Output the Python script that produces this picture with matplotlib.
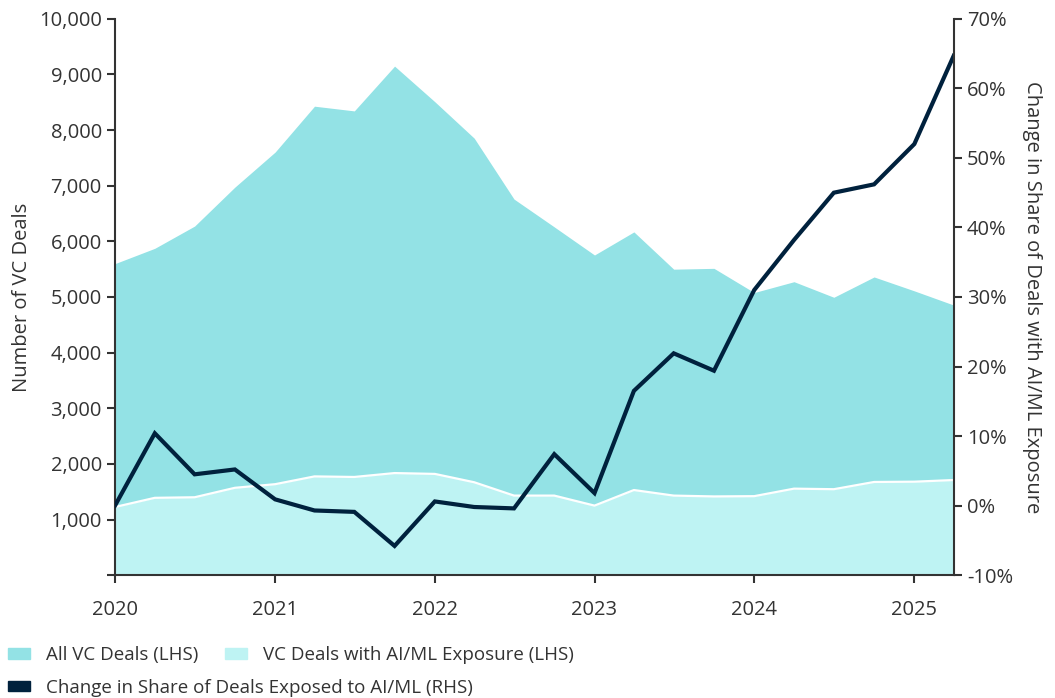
import pandas as pd
import matplotlib.pyplot as plt
from matplotlib.patches import Patch
from matplotlib.ticker import FuncFormatter

plt.rcParams['font.family'] = ['Open Sans', 'DejaVu Sans']

# Quarterly data, 2020 Q1 - 2025 Q2
quarters = pd.date_range('2020-01-01', periods=22, freq='QS')

# All VC deals (LHS)
all_deals = [5600, 5875, 6275, 6975, 7605, 8430, 8345, 9150, 8510, 7855, 6760, 6260,
             5755, 6170, 5500, 5515, 5080, 5275, 4995, 5360, 5110, 4855]

# VC deals with AI/ML exposure (LHS)
ai_deals = [1225, 1390, 1400, 1570, 1635, 1775, 1765, 1835, 1820, 1670, 1430, 1430,
            1250, 1530, 1430, 1415, 1420, 1555, 1545, 1675, 1680, 1710]

# Change in share of deals exposed to AI/ML (RHS, %)
share_change = [0.0, 10.4, 4.5, 5.2, 0.9, -0.7, -0.9, -5.8, 0.6, -0.2, -0.4, 7.4,
                1.8, 16.5, 21.9, 19.4, 31.0, 38.2, 45.0, 46.2, 52.0, 64.7]

c_all = '#93E2E5'
c_ai = '#BEF3F3'
c_line = '#00213D'
c_text = '#333333'

fig, ax = plt.subplots(figsize=(10.55, 6.98), dpi=100)
fig.subplots_adjust(left=0.109, right=0.904, top=0.973, bottom=0.176)

ax.fill_between(quarters, all_deals, 0, color=c_all, linewidth=0)
ax.fill_between(quarters, ai_deals, 0, color=c_ai, linewidth=0)
ax.plot(quarters, ai_deals, color='white', linewidth=1.6)

ax.set_xlim(quarters[0], quarters[-1])
ax.set_ylim(0, 10000)
ax.set_yticks(range(0, 10001, 1000))
ax.yaxis.set_major_formatter(FuncFormatter(lambda v, p: '' if v == 0 else f'{int(v):,}'))
years = pd.to_datetime([f'{y}-01-01' for y in range(2020, 2026)])
ax.set_xticks(years)
ax.set_xticklabels([str(y) for y in range(2020, 2026)])
ax.set_ylabel('Number of VC Deals', fontsize=14.5, color=c_text, labelpad=5)

ax2 = ax.twinx()
ax2.plot(quarters, share_change, color=c_line, linewidth=3, solid_joinstyle='miter')
ax2.set_ylim(-10, 70)
ax2.set_yticks(range(-10, 71, 10))
ax2.yaxis.set_major_formatter(FuncFormatter(lambda v, p: f'{int(v)}%'))
ax2.set_ylabel('Change in Share of Deals with AI/ML Exposure', fontsize=14.5,
               color=c_text, rotation=270, labelpad=21)

for a in (ax, ax2):
    a.spines['top'].set_visible(False)
    for s in ('left', 'right', 'bottom'):
        a.spines[s].set_color(c_text)
        a.spines[s].set_linewidth(1.5)
    a.tick_params(axis='both', colors=c_text, labelsize=14.5, length=6, width=1.5,
                  direction='out')
ax.spines['right'].set_visible(False)
ax2.spines['left'].set_visible(False)
ax2.spines['bottom'].set_visible(False)
ax.tick_params(axis='x', pad=12)

fig.legend(handles=[Patch(color=c_all), Patch(color=c_ai)],
           labels=['All VC Deals (LHS)', 'VC Deals with AI/ML Exposure (LHS)'],
           loc='upper left', bbox_to_anchor=(0.0, 0.085), ncol=2, frameon=False,
           fontsize=13.5, handlelength=1.2, handleheight=0.45, handletextpad=0.85,
           columnspacing=1.4, labelcolor=c_text, borderaxespad=0)
fig.legend(handles=[Patch(color=c_line)],
           labels=['Change in Share of Deals Exposed to AI/ML (RHS)'],
           loc='upper left', bbox_to_anchor=(0.0, 0.038), frameon=False,
           fontsize=13.5, handlelength=1.2, handleheight=0.45, handletextpad=0.85,
           labelcolor=c_text, borderaxespad=0)

fig.savefig('out.png', dpi=100)
